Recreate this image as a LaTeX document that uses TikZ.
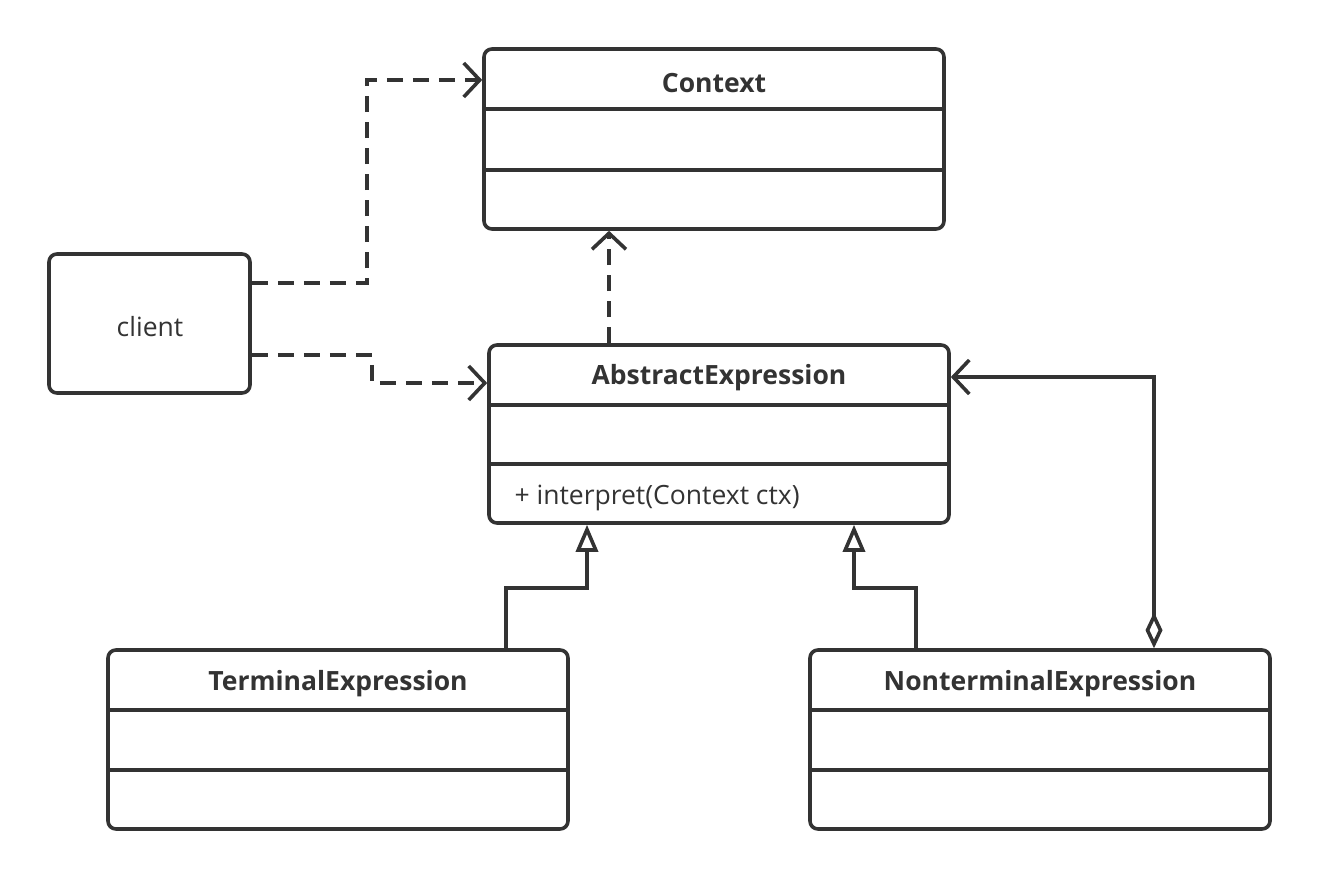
\documentclass[tikz,border=0pt]{standalone}
\usepackage{fontspec}
\setmainfont{Open Sans}
\usetikzlibrary{arrows.meta}
\definecolor{ink}{HTML}{333333}
\tikzset{
  umlbox/.style={draw=ink, line width=3.6pt, rounded corners=8pt, fill=white, inner sep=0pt},
  title/.style={font=\bfseries\fontsize{26.5}{30}\selectfont, text=ink},
  plain/.style={font=\fontsize{26.5}{30}\selectfont, text=ink},
  sep/.style={draw=ink, line width=3.6pt},
  dep/.style={draw=ink, line width=3.6pt, dash pattern=on 16pt off 10pt, -{Straight Barb[length=16pt,width=34pt,line width=3.6pt]}},
  gen/.style={draw=ink, line width=3.6pt, -{Triangle[open,length=27pt,width=22pt,line width=3.6pt]}},
  agg/.style={draw=ink, line width=3.6pt, {Diamond[open,length=36pt,width=17pt,line width=3.6pt]}-{Straight Barb[length=16pt,width=34pt,line width=3.6pt]}},
}
\begin{document}
\begin{tikzpicture}[x=1pt,y=1pt]
\useasboundingbox (0,0) rectangle (1320,-880);
% Context
\node[umlbox, minimum width=460pt, minimum height=180pt] (ctx) at (714,-139) {};
\draw[sep] (ctx.west |- 0,-109) -- (ctx.east |- 0,-109);
\draw[sep] (ctx.west |- 0,-170) -- (ctx.east |- 0,-170);
\node[title] (ctxt) at (714,-83) {Context};
% client
\node[umlbox, minimum width=201pt, minimum height=139pt] (cli) at (149.5,-323.5) {};
\node[plain] (clit) at (150,-327) {client};
% AbstractExpression
\node[umlbox, minimum width=460pt, minimum height=178pt] (abs) at (719,-434) {};
\draw[sep] (abs.west |- 0,-405) -- (abs.east |- 0,-405);
\draw[sep] (abs.west |- 0,-464) -- (abs.east |- 0,-464);
\node[title] (abst) at (719,-378) {AbstractExpression};
\node[plain, anchor=west] (absm) at (511,-498) {+ interpret(Context ctx)};
% TerminalExpression
\node[umlbox, minimum width=460pt, minimum height=179pt] (ter) at (338,-739.5) {};
\draw[sep] (ter.west |- 0,-710) -- (ter.east |- 0,-710);
\draw[sep] (ter.west |- 0,-770) -- (ter.east |- 0,-770);
\node[title] (tert) at (338,-684) {TerminalExpression};
% NonterminalExpression
\node[umlbox, minimum width=460pt, minimum height=179pt] (non) at (1040,-739.5) {};
\draw[sep] (non.west |- 0,-710) -- (non.east |- 0,-710);
\draw[sep] (non.west |- 0,-770) -- (non.east |- 0,-770);
\node[title] (nont) at (1040,-684) {NonterminalExpression};
% connectors
\draw[dep] (cli.east |- 0,-283) -- (367,-283) -- (367,-80) -- (ctx.west |- 0,-80);
\draw[dep] (cli.east |- 0,-355) -- (372,-355) -- (372,-383) -- (abs.west |- 0,-383);
\draw[dep] (abs.north -| 609,0) -- (ctx.south -| 609,0);
\draw[gen] (ter.north -| 506,0) -- (506,-588) -- (587,-588) -- (abs.south -| 587,0);
\draw[gen] (non.north -| 916,0) -- (916,-588) -- (854,-588) -- (abs.south -| 854,0);
\draw[agg] (non.north -| 1154,0) -- (1154,-377) -- (abs.east |- 0,-377);
\end{tikzpicture}
\end{document}
